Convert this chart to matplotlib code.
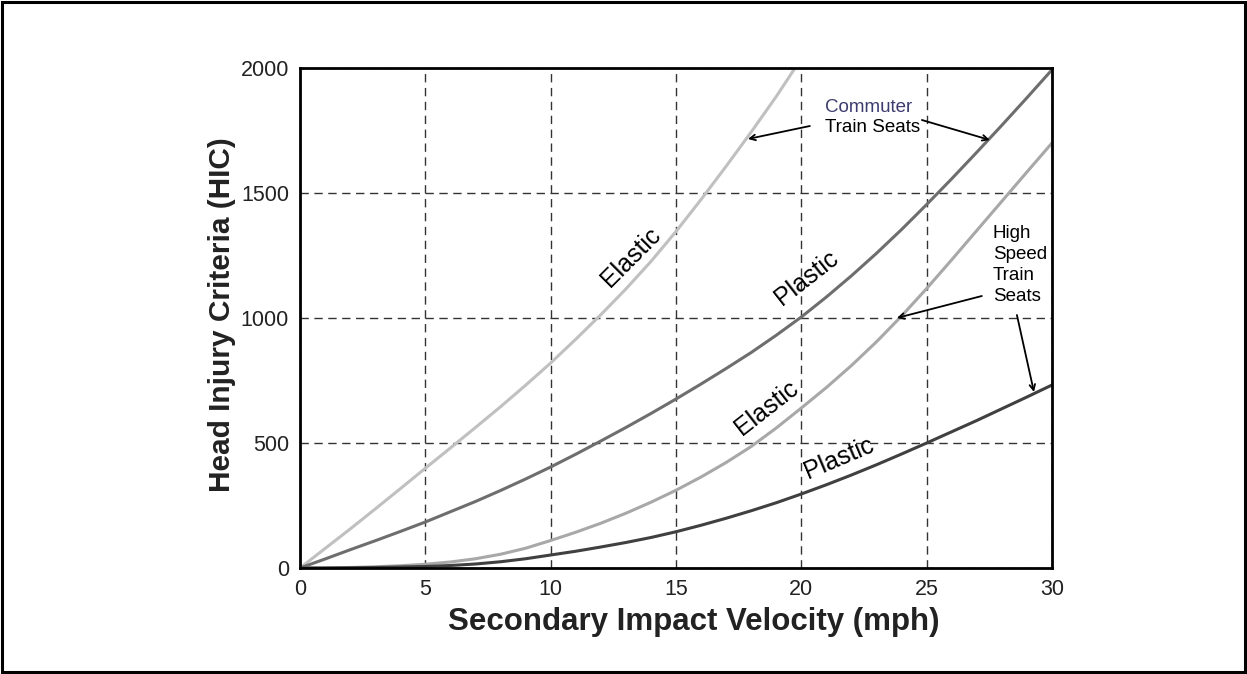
import matplotlib
matplotlib.use("Agg")
import matplotlib.pyplot as plt
from matplotlib.patches import Rectangle

plt.rcParams['font.family'] = ['Liberation Sans', 'DejaVu Sans']

# values, speed in mph, HIC
x_ce = [0, 1, 2, 3, 4, 5, 6, 7, 8, 9, 10, 11, 12, 13, 14, 15, 16, 17, 18, 19, 19.75]
y_ce = [0, 78, 156, 236, 317, 399, 480, 562, 645, 731, 820, 915, 1013, 1116, 1226,
        1346, 1474, 1607, 1744, 1886, 2000]  # commuter elastic

x_cp = list(range(0, 31))
y_cp = [0, 36, 73, 109, 146, 184, 225, 266, 310, 356, 404, 455, 508, 562, 618, 676,
        736, 798, 862, 931, 1004, 1084, 1169, 1259, 1354, 1454, 1557, 1663, 1771, 1881, 1993]  # commuter plastic

x_he = list(range(0, 31))
y_he = [0, 0.5, 2, 5, 9, 15, 24, 37, 55, 79, 110, 143, 179, 219, 263, 311, 364, 422,
        486, 560, 640, 722, 810, 905, 1008, 1118, 1233, 1350, 1467, 1584, 1700]  # high speed elastic

x_hp = list(range(0, 31))
y_hp = [0, 0, 1, 2, 4, 6, 10, 16, 25, 37, 52, 67, 84, 102, 122, 145, 171, 199, 229,
        261, 296, 333, 372, 413, 456, 500, 545, 590, 637, 684, 732]  # high speed plastic

x_ticks = [0, 5, 10, 15, 20, 25, 30]
y_ticks = [0, 500, 1000, 1500, 2000]

fig = plt.figure(figsize=(12.47, 6.74), dpi=100)
ax = fig.add_axes([300 / 1247, 1 - 568 / 674, 752 / 1247, 500 / 674])

ax.plot(x_ce, y_ce, color='#c0c0c0', lw=2.2)
ax.plot(x_cp, y_cp, color='#6e6e6e', lw=2.2)
ax.plot(x_he, y_he, color='#a8a8a8', lw=2.2)
ax.plot(x_hp, y_hp, color='#404040', lw=2.2)

ax.set_xlim(0, 30)
ax.set_ylim(0, 2000)
ax.set_xticks(x_ticks)
ax.set_yticks(y_ticks)
ax.tick_params(length=0, labelsize=15.5, pad=8, labelcolor='#222222')
ax.grid(True, color='#333333', ls=(0, (6, 4)), lw=1)
for s in ax.spines.values():
    s.set_linewidth(2)

fig.text(694 / 1247, 1 - 622 / 674, 'Secondary Impact Velocity (mph)', ha='center', va='center',
         fontsize=22.5, fontweight='bold', color='#222222')
fig.text(222 / 1247, 1 - 315 / 674, 'Head Injury Criteria (HIC)', ha='center', va='center',
         rotation=90, fontsize=21.5, fontweight='bold', color='#222222')

# curve labels
ax.text(13.2, 1244, 'Elastic', rotation=45, ha='center', va='center', fontsize=18)
ax.text(20.2, 1160, 'Plastic', rotation=38, ha='center', va='center', fontsize=18)
ax.text(18.6, 640, 'Elastic', rotation=38, ha='center', va='center', fontsize=18)
ax.text(21.5, 440, 'Plastic', rotation=23, ha='center', va='center', fontsize=18)

# commuter annotation
ax.text(20.94, 1844, 'Commuter', ha='left', va='center', fontsize=13.5, color='#3c3c6e')
ax.text(20.94, 1764, 'Train Seats', ha='left', va='center', fontsize=13.5)
arrow = dict(arrowstyle='->', color='black', lw=1.3, shrinkA=0, shrinkB=0)
ax.annotate('', xy=(17.87, 1716), xytext=(20.34, 1768), arrowprops=arrow)
ax.annotate('', xy=(27.52, 1712), xytext=(24.81, 1792), arrowprops=arrow)

# high speed annotation
ax.text(27.64, 1212, 'High\nSpeed\nTrain\nSeats', ha='left', va='center', fontsize=13.5,
        linespacing=1.3)
ax.annotate('', xy=(23.81, 1000), xytext=(27.2, 1088), arrowprops=arrow)
ax.annotate('', xy=(29.28, 704), xytext=(28.6, 1012), arrowprops=arrow)

fig.patches.append(Rectangle((0.002, 0.003), 0.996, 0.994, transform=fig.transFigure,
                             fill=False, lw=2.2, edgecolor='black'))

fig.savefig('out.png', dpi=100)
